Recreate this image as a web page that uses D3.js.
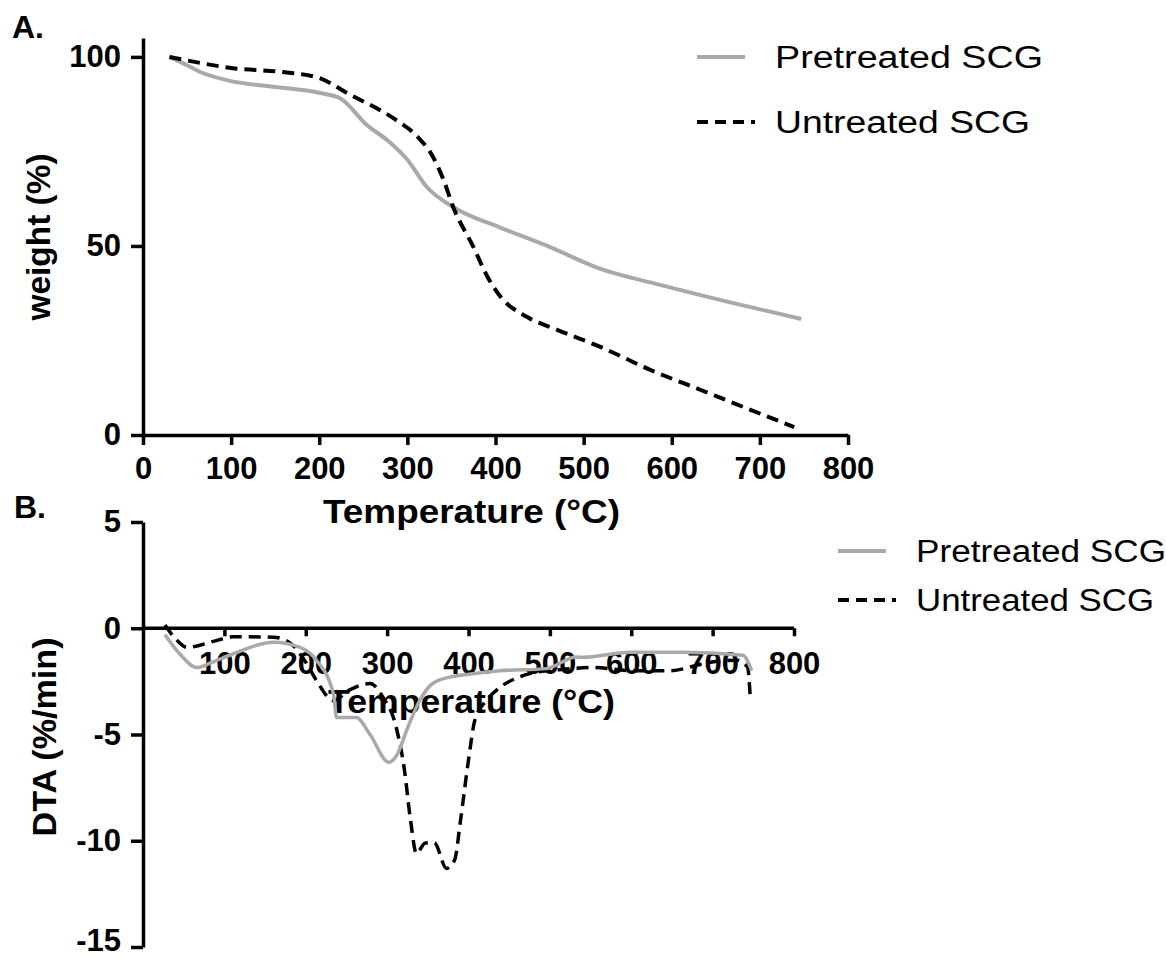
<!DOCTYPE html>
<html>
<head>
<meta charset="utf-8">
<script src="https://cdn.jsdelivr.net/npm/d3@7"></script>
<style>
  body { margin: 0; background: #fff; }
  svg text { font-family: "Liberation Sans", Arial, sans-serif; fill: #000; }
  .axis path, .axis line { stroke: #000; stroke-width: 3.5px; }
  .axis text { font-size: 31px; font-weight: bold; }
  .axis-title { font-size: 34px; font-weight: bold; }
  .legend-text { font-size: 31px; }
  .panel-tag { font-size: 32px; font-weight: bold; }
</style>
</head>
<body>
<div id="chart"></div>
<script>
// ── Data: A. TGA weight (%) ──────────────────────────────────────────────
const tgaPreT = [30, 50, 65, 100, 141, 200, 224, 254, 277, 300, 322, 352, 406, 462, 516, 587, 664, 747];
const tgaPreW = [100, 97.8, 96, 93.6, 92.3, 90.5, 89, 82, 78, 72.8, 65.6, 60.3, 54.8, 49.7, 44.2, 39.7, 35.2, 30.7];

const tgaUntT = [30, 65, 102, 159, 200, 235, 284, 311, 328, 341, 352, 375, 391, 406, 436, 470, 519, 576, 633, 690, 739];
const tgaUntW = [100, 98.4, 97, 96, 94.4, 90, 83.8, 79, 74, 67.5, 60.3, 49.7, 41.8, 36.5, 31.2, 27.8, 23.3, 17.2, 11.9, 6.6, 2.1];

// ── Data: B. DTA (%/min) ─────────────────────────────────────────────────
const dtaPreT = [27, 45, 66, 85, 111, 160, 193, 213, 234, 238, 262, 279, 302, 313, 324, 340, 356, 377, 393, 438, 496, 532, 541, 598, 663, 737, 748];
const dtaPreV = [-0.3, -1.2, -1.85, -1.6, -1.2, -0.66, -0.9, -1.5, -3.1, -4.2, -4.2, -5.0, -6.3, -5.9, -4.8, -3.4, -2.6, -2.3, -2.2, -2.0, -1.9, -1.35, -1.37, -1.13, -1.13, -1.27, -2.0];

const dtaUntT = [27, 40, 54, 91, 111, 160, 181, 200, 213, 234, 254, 279, 295, 310, 321, 329, 336, 347, 358, 373, 383, 390, 400, 408, 422, 438, 462, 496, 512, 552, 602, 647, 697, 730, 743, 746];
const dtaUntV = [0.15, -0.5, -0.9, -0.57, -0.4, -0.42, -0.7, -1.6, -2.45, -3.4, -2.9, -2.6, -3.25, -4.5, -6.6, -9.1, -10.6, -10.1, -10.1, -11.3, -10.9, -9.1, -6.2, -4.3, -3.4, -2.8, -2.3, -2.0, -1.95, -1.84, -2.0, -2.0, -1.6, -1.5, -1.84, -3.1];

// ── Tick labels ──────────────────────────────────────────────────────────
const tempTicksA = [0, 100, 200, 300, 400, 500, 600, 700, 800];
const tempTicksB = [100, 200, 300, 400, 500, 600, 700, 800];
const weightTicks = [0, 50, 100];
const dtaTicks = [5, 0, -5, -10, -15];

const seriesNames = ["Pretreated SCG", "Untreated SCG"];

const GRAY = "#a9a9a9";
const DASH = "12,7";

const zip = (xs, ys) => xs.map((x, i) => [x, ys[i]]);
const plain = (d) => String(d); // hyphen minus, like the original

const svg = d3.select("#chart")
  .append("svg")
  .attr("width", 1166)
  .attr("height", 957);

function drawLegend(x, y1, y2, textLen) {
  const lg = svg.append("g").attr("class", "legend");
  lg.append("line")
    .attr("x1", x).attr("x2", x + 48).attr("y1", y1).attr("y2", y1)
    .attr("stroke", GRAY).attr("stroke-width", 4);
  lg.append("line")
    .attr("x1", x).attr("x2", x + 58).attr("y1", y2).attr("y2", y2)
    .attr("stroke", "#000").attr("stroke-width", 4)
    .attr("stroke-dasharray", "11,7");
  lg.selectAll("text")
    .data(seriesNames)
    .join("text")
    .attr("class", "legend-text")
    .attr("x", x + 78)
    .attr("y", (d, i) => (i === 0 ? y1 : y2) + 11)
    .attr("textLength", (d, i) => textLen[i])
    .attr("lengthAdjust", "spacingAndGlyphs")
    .text((d) => d);
}

// ── Panel A ──────────────────────────────────────────────────────────────
(function panelA() {
  const x = d3.scaleLinear().domain([0, 800]).range([143, 848]);
  const y = d3.scaleLinear().domain([0, 105]).range([435, 38]);

  const line = d3.line()
    .x((d) => x(d[0]))
    .y((d) => y(d[1]))
    .curve(d3.curveMonotoneX);

  svg.append("path")
    .datum(zip(tgaPreT, tgaPreW))
    .attr("d", line)
    .attr("fill", "none")
    .attr("stroke", GRAY)
    .attr("stroke-width", 4);

  svg.append("path")
    .datum(zip(tgaUntT, tgaUntW))
    .attr("d", line)
    .attr("fill", "none")
    .attr("stroke", "#000")
    .attr("stroke-width", 4)
    .attr("stroke-dasharray", DASH);

  svg.append("g")
    .attr("class", "axis")
    .attr("transform", `translate(0,${y(0)})`)
    .call(d3.axisBottom(x).tickValues(tempTicksA).tickFormat(plain)
      .tickSize(10).tickSizeOuter(0).tickPadding(12));

  svg.append("g")
    .attr("class", "axis")
    .attr("transform", `translate(${x(0)},0)`)
    .call(d3.axisLeft(y).tickValues(weightTicks).tickFormat(plain)
      .tickSize(12).tickSizeOuter(0).tickPadding(10));

  svg.append("text")
    .attr("class", "axis-title")
    .attr("x", 323).attr("y", 523)
    .attr("textLength", 297)
    .attr("lengthAdjust", "spacingAndGlyphs")
    .text("Temperature (°C)");

  svg.append("text")
    .attr("class", "axis-title")
    .attr("transform", "translate(50,237) rotate(-90)")
    .attr("text-anchor", "middle")
    .attr("textLength", 167)
    .attr("lengthAdjust", "spacingAndGlyphs")
    .text("weight (%)");

  svg.append("text").attr("class", "panel-tag").attr("x", 12).attr("y", 38).text("A.");

  drawLegend(697, 57, 122, [268, 255]);
})();

// ── Panel B ──────────────────────────────────────────────────────────────
(function panelB() {
  const x = d3.scaleLinear().domain([0, 800]).range([143, 794]);
  const y = d3.scaleLinear().domain([-15, 5]).range([947, 522]);

  const line = d3.line()
    .x((d) => x(d[0]))
    .y((d) => y(d[1]))
    .curve(d3.curveMonotoneX);

  svg.append("g")
    .attr("class", "axis")
    .attr("transform", `translate(0,${y(0)})`)
    .call(d3.axisBottom(x).tickValues(tempTicksB).tickFormat(plain)
      .tickSize(8).tickSizeOuter(0).tickPadding(16))
    .call((ax) => ax.select(".domain").attr("d", `M${x(0)},0H${x(800)}`));

  svg.append("g")
    .attr("class", "axis")
    .attr("transform", `translate(${x(0)},0)`)
    .call(d3.axisLeft(y).tickValues(dtaTicks).tickFormat(plain)
      .tickSize(12).tickSizeOuter(0).tickPadding(10))
    .call((ax) => ax.selectAll(".tick text").filter((d) => d === -15).attr("dy", "0.1em"));

  svg.append("text")
    .attr("class", "axis-title")
    .attr("x", 328).attr("y", 713)
    .attr("textLength", 287)
    .attr("lengthAdjust", "spacingAndGlyphs")
    .text("Temperature (°C)");

  svg.append("path")
    .datum(zip(dtaUntT, dtaUntV))
    .attr("d", line)
    .attr("fill", "none")
    .attr("stroke", "#000")
    .attr("stroke-width", 3.5)
    .attr("stroke-dasharray", DASH);

  svg.append("path")
    .datum(zip(dtaPreT, dtaPreV))
    .attr("d", line)
    .attr("fill", "none")
    .attr("stroke", GRAY)
    .attr("stroke-width", 3.5);

  svg.append("text")
    .attr("class", "axis-title")
    .attr("transform", "translate(56,737) rotate(-90)")
    .attr("text-anchor", "middle")
    .attr("textLength", 199)
    .attr("lengthAdjust", "spacingAndGlyphs")
    .text("DTA (%/min)");

  svg.append("text").attr("class", "panel-tag").attr("x", 14).attr("y", 518).text("B.");

  drawLegend(838, 551, 600, [250, 238]);
})();
</script>
</body>
</html>
